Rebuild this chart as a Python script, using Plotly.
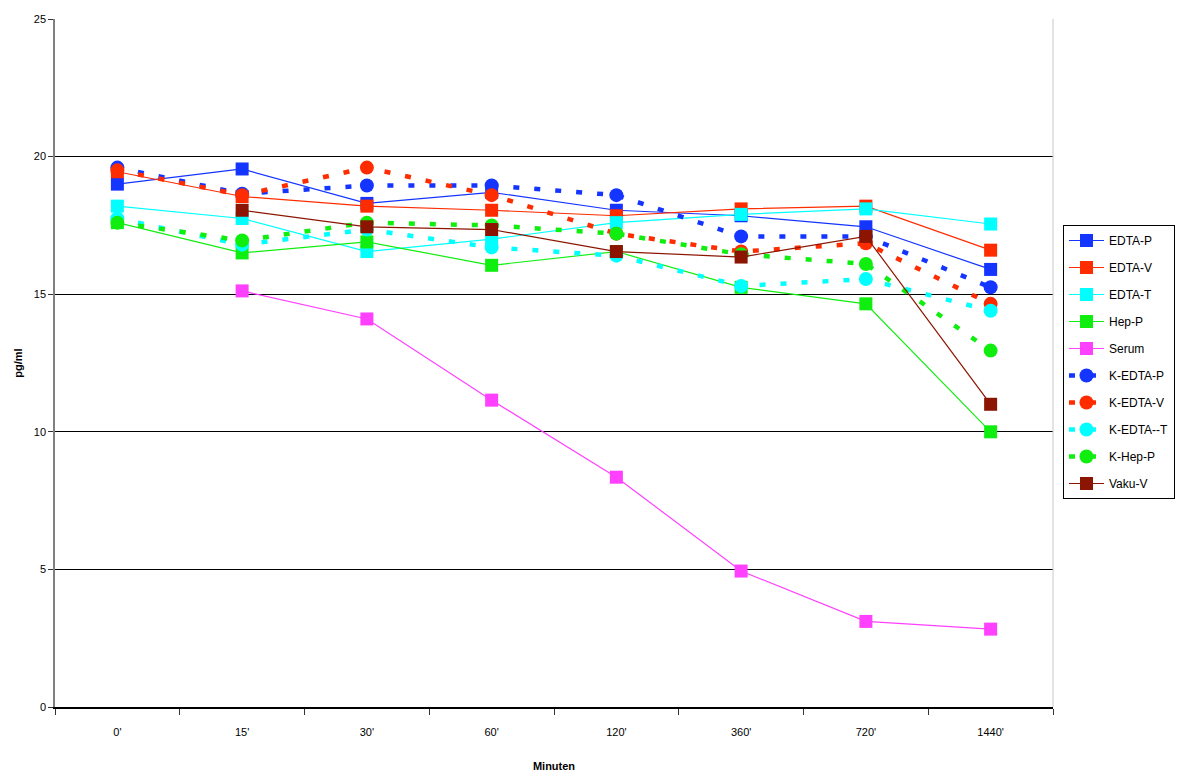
import plotly.graph_objects as go

# Sampling times (x categories)
times = ["0'", "15'", "30'", "60'", "120'", "360'", "720'", "1440'"]

# Measured concentrations in pg/ml per sample type
edta_p = [19.0, 19.55, 18.3, 18.7, 18.05, 17.85, 17.45, 15.9]
edta_v = [19.45, 18.55, 18.2, 18.05, 17.85, 18.1, 18.2, 16.6]
edta_t = [18.2, 17.75, 16.55, 17.0, 17.6, 17.9, 18.1, 17.55]
hep_p = [17.6, 16.5, 16.9, 16.05, 16.55, 15.25, 14.65, 10.0]
serum = [None, 15.12, 14.1, 11.15, 8.35, 4.94, 3.11, 2.83]
k_edta_p = [19.6, 18.65, 18.95, 18.95, 18.6, 17.1, 17.1, 15.25]
k_edta_v = [19.5, 18.6, 19.6, 18.6, 17.2, 16.55, 16.85, 14.65]
k_edta_t = [17.75, 16.8, 17.35, 16.7, 16.4, 15.3, 15.55, 14.4]
k_hep_p = [17.6, 16.95, 17.6, 17.5, 17.2, 16.45, 16.1, 12.95]
vaku_v = [None, 18.05, 17.45, 17.35, 16.55, 16.35, 17.1, 11.0]

BLUE = "#1434FF"
RED = "#FF2C00"
CYAN = "#00FFFF"
GREEN = "#10EE10"
MAGENTA = "#FF40FF"
BROWN = "#8B1500"

series = [
    ("EDTA-P", edta_p, BLUE, "solid"),
    ("EDTA-V", edta_v, RED, "solid"),
    ("EDTA-T", edta_t, CYAN, "solid"),
    ("Hep-P", hep_p, GREEN, "solid"),
    ("Serum", serum, MAGENTA, "solid"),
    ("K-EDTA-P", k_edta_p, BLUE, "dash"),
    ("K-EDTA-V", k_edta_v, RED, "dash"),
    ("K-EDTA--T", k_edta_t, CYAN, "dash"),
    ("K-Hep-P", k_hep_p, GREEN, "dash"),
    ("Vaku-V", vaku_v, BROWN, "solid"),
]

fig = go.Figure()
for i, (name, vals, color, style) in enumerate(series):
    if style == "solid":
        line = dict(color=color, width=1.2)
        marker = dict(symbol="square", size=13, color=color, line=dict(width=0))
    else:
        line = dict(color=color, width=4.5, dash="6px,15px")
        marker = dict(symbol="circle", size=14, color=color, line=dict(width=0))
    fig.add_trace(go.Scatter(
        x=times, y=vals, name=name, mode="lines+markers",
        line=line, marker=marker, connectgaps=False,
        legendgroup=f"g{i}",
    ))

fig.update_layout(
    width=1184, height=776,
    margin=dict(l=55, r=131, t=19, b=69, autoexpand=False),
    paper_bgcolor="white", plot_bgcolor="white",
    font=dict(family="Liberation Sans, Arial, sans-serif", size=11, color="black"),
    showlegend=True,
    legend=dict(
        x=1.010, y=0.7006, xanchor="left", yanchor="top",
        bgcolor="white", bordercolor="black", borderwidth=1,
        font=dict(size=12, color="black"),
        tracegroupgap=8, itemwidth=35,
    ),
    xaxis=dict(
        type="category", range=[-0.5, 7.5],
        showgrid=False, zeroline=False,
        showline=True, linecolor="black", linewidth=1.5,
        ticks="outside", tickson="boundaries", ticklen=6, tickcolor="#333",
        ticklabelstandoff=14,
        title=dict(text="<b>Minuten</b>", font=dict(size=11), standoff=25),
    ),
    yaxis=dict(
        range=[0, 25], dtick=5,
        showgrid=True, gridcolor="black", gridwidth=1,
        zeroline=False,
        showline=True, linecolor="#808080", linewidth=1.5,
        ticks="outside", ticklen=5, tickcolor="#333",
        title=dict(text="<b>pg/ml</b>", font=dict(size=11), standoff=9),
    ),
    shapes=[
        dict(type="line", xref="paper", yref="paper", x0=1, x1=1, y0=0, y1=1,
             line=dict(color="#c8c8c8", width=1)),
    ],
)

fig.write_html("out.html")
